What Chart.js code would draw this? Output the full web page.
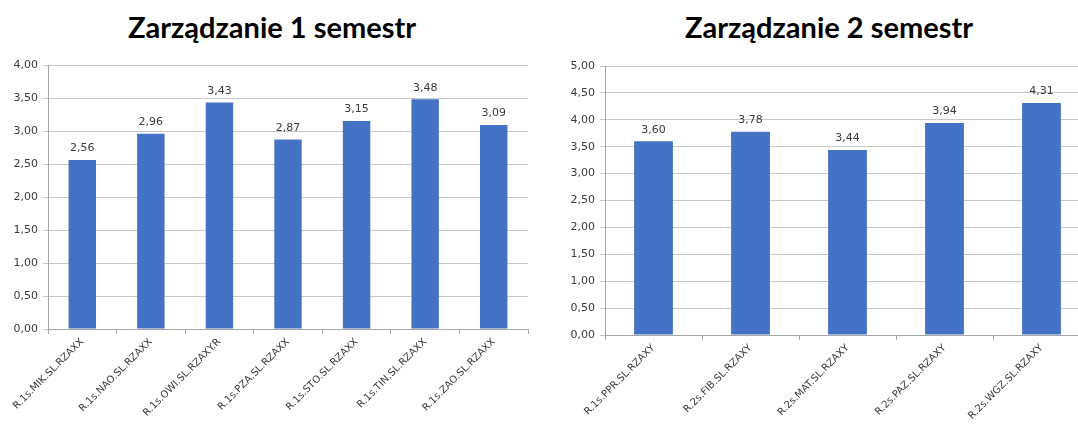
<!DOCTYPE html>
<html>
<head>
<meta charset="utf-8">
<script src="https://cdn.jsdelivr.net/npm/chart.js@4/dist/chart.umd.min.js"></script>
<style>
  html, body { margin: 0; padding: 0; background: #fff; overflow: hidden; width: 1078px; height: 427px; }
  .title { position: absolute; top: 9px; font-family: Lato, sans-serif; font-weight: bold; font-size: 29px; color: #000; transform: translateX(-50%); white-space: nowrap; }
  canvas { position: absolute; top: 0; }
</style>
</head>
<body>
<div class="title" style="left:272px">Zarządzanie 1 semestr</div>
<div class="title" style="left:829px">Zarządzanie 2 semestr</div>
<canvas id="sem1" width="540" height="427" style="left:0"></canvas>
<canvas id="sem2" width="560" height="427" style="left:540px"></canvas>
<script>
// ---- data ----
const sem1Labels = ['R.1s.MIK.SL.RZAXX', 'R.1s.NAO.SL.RZAXX', 'R.1s.OWI.SL.RZAXY.R', 'R.1s.PZA.SL.RZAXX',
  'R.1s.STO.SL.RZAXX', 'R.1s.TIN.SL.RZAXX', 'R.1s.ZAO.SL.RZAXX'];
const sem1Values = [2.56, 2.96, 3.43, 2.87, 3.15, 3.48, 3.09];
const sem1Max = 4;

const sem2Labels = ['R.1s.PPR.SL.RZAXY', 'R.2s.FIB.SL.RZAXY', 'R.2s.MAT.SL.RZAXY', 'R.2s.PAZ.SL.RZAXY', 'R.2s.WGZ.SL.RZAXY'];
const sem2Values = [3.60, 3.78, 3.44, 3.94, 4.31];
const sem2Max = 5;

const colors = {
  bar: '#4472C4',
  grid: '#c8c8c8',
  axis: '#a6a6a6',
  text: '#3a3a3a'
};

const fmt = v => Number(v).toFixed(2).replace('.', ',');

// value labels above bars
const valueLabels = {
  id: 'valueLabels',
  afterDatasetsDraw(chart) {
    const ctx = chart.ctx;
    ctx.save();
    ctx.font = '11px "DejaVu Sans"';
    ctx.fillStyle = colors.text;
    ctx.textAlign = 'center';
    ctx.textBaseline = 'bottom';
    chart.getDatasetMeta(0).data.forEach((bar, i) => {
      ctx.fillText(fmt(chart.data.datasets[0].data[i]), bar.x, bar.y - 6);
    });
    ctx.restore();
  }
};

function makeChart(id, labels, values, max, yWidth, xHeight, padTop, padRight) {
  return new Chart(document.getElementById(id).getContext('2d'), {
    type: 'bar',
    data: {
      labels: labels,
      datasets: [{
        data: values,
        backgroundColor: colors.bar,
        barPercentage: 0.4,
        categoryPercentage: 1
      }]
    },
    plugins: [valueLabels],
    options: {
      responsive: false,
      animation: false,
      devicePixelRatio: 1,
      layout: { padding: { top: padTop, right: padRight, left: 0, bottom: 0 } },
      plugins: { legend: { display: false }, tooltip: { enabled: false } },
      scales: {
        x: {
          grid: { display: true, drawOnChartArea: false, color: colors.axis, tickLength: 5 },
          border: { color: colors.axis },
          ticks: {
            color: colors.text,
            font: { family: 'DejaVu Sans', size: 10 },
            minRotation: 45,
            maxRotation: 45,
            padding: 2,
            autoSkip: false
          },
          afterFit(scale) { scale.height = xHeight; scale.paddingLeft = 0; scale.paddingRight = 0; }
        },
        y: {
          min: 0,
          max: max,
          grid: { color: colors.grid, tickLength: 5 },
          border: { color: colors.axis },
          ticks: {
            stepSize: 0.5,
            color: colors.text,
            font: { family: 'DejaVu Sans', size: 11 },
            padding: 5,
            callback: v => fmt(v)
          },
          afterFit(scale) { scale.width = yWidth; }
        }
      }
    }
  });
}

makeChart('sem1', sem1Labels, sem1Values, sem1Max, 48, 98, 65, 12);
makeChart('sem2', sem2Labels, sem2Values, sem2Max, 65, 92, 66, 10);
</script>
</body>
</html>
